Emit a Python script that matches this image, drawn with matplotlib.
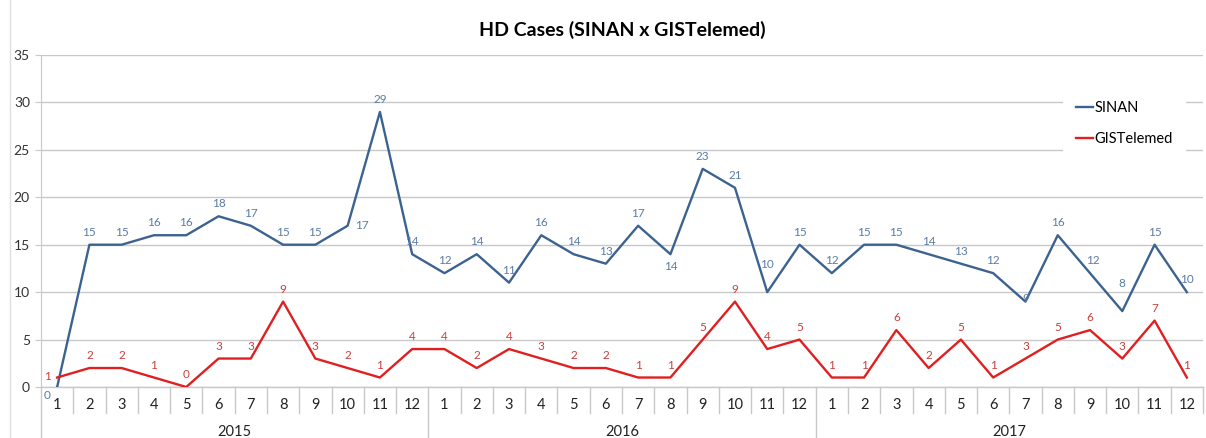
import matplotlib
matplotlib.use('Agg')
import matplotlib.pyplot as plt
import matplotlib.transforms as mtransforms
import numpy as np

plt.rcParams['font.family'] = ['Lato', 'DejaVu Sans']

years = ['2015', '2016', '2017']
months = [str(m) for m in range(1, 13)]

sinan = [0, 15, 15, 16, 16, 18, 17, 15, 15, 17, 29, 14,
         12, 14, 11, 16, 14, 13, 17, 14, 23, 21, 10, 15,
         12, 15, 15, 14, 13, 12, 9, 16, 12, 8, 15, 10]
gistelemed = [1, 2, 2, 1, 0, 3, 3, 9, 3, 2, 1, 4,
              4, 2, 4, 3, 2, 2, 1, 1, 5, 9, 4, 5,
              1, 1, 6, 2, 5, 1, 3, 5, 6, 3, 7, 1]

blue = '#3c6290'
blue_lbl = '#5a7ba6'
red = '#e02020'
red_lbl = '#c8403c'
grid_col = '#c8c8c8'

fig = plt.figure(figsize=(12.06, 4.38), dpi=100)
ax = fig.add_axes([41 / 1206, 51 / 438, 1162 / 1206, 332 / 438])

x = np.arange(len(sinan))
ax.plot(x, sinan, color=blue, linewidth=1.7, label='SINAN', zorder=3)
ax.plot(x, gistelemed, color=red, linewidth=1.7, label='GISTelemed', zorder=3)

# data labels (Excel style, mostly above the point), offsets in points
sinan_off = {0: (-7, -6), 9: (10, 0), 19: (0, -9), 22: (0, 20),
             30: (0, 2), 32: (2, 9), 33: (0, 20)}
gis_off = {0: (-7, 1)}
for i, v in enumerate(sinan):
    ax.annotate(str(v), (i, v), xytext=sinan_off.get(i, (0, 9)), textcoords='offset points',
                ha='center', va='center', fontsize=8.5, color=blue_lbl, zorder=4)
for i, v in enumerate(gistelemed):
    ax.annotate(str(v), (i, v), xytext=gis_off.get(i, (0, 9)), textcoords='offset points',
                ha='center', va='center', fontsize=8.5, color=red_lbl, zorder=4)

ax.set_xlim(-0.5, len(sinan) - 0.5)
ax.set_ylim(0, 35)
ax.set_yticks(np.arange(0, 36, 5))
ax.yaxis.grid(True, color=grid_col, linewidth=1)
ax.set_axisbelow(True)
for s in ['top', 'right', 'bottom']:
    ax.spines[s].set_visible(False)
ax.spines['left'].set_color(grid_col)
ax.spines['left'].set_bounds(0, 35)
ax.tick_params(axis='y', length=4, color=grid_col, labelsize=10, labelcolor='#333333', pad=4)

# two level category axis
ax.set_xticks(x)
ax.set_xticklabels(months * len(years), fontsize=10.5, color='#222222')
ax.tick_params(axis='x', length=0, pad=8)
trans = mtransforms.blended_transform_factory(ax.transData, ax.transAxes)
ax.plot([-0.5, len(sinan) - 0.5], [0, 0], transform=trans, color=grid_col, lw=1, clip_on=False)
for k in range(len(sinan) + 1):
    b = k - 0.5
    low = -0.155 if k % 12 == 0 and k < len(sinan) else -0.078
    ax.plot([b, b], [0, low], transform=trans, color=grid_col, lw=1, clip_on=False)
for j, yr in enumerate(years):
    ax.text(j * 12 + 5.5, -0.135, yr, transform=trans, ha='center', va='center',
            fontsize=10.5, color='#222222')

ax.set_title('HD Cases (SINAN x GISTelemed)', fontsize=14, fontweight='bold', pad=14)

leg = ax.legend(loc='upper left', bbox_to_anchor=(0.873, 0.922), frameon=True,
                framealpha=1, edgecolor='none', fontsize=10.5, handlelength=1.2,
                handletextpad=0.1, labelspacing=1.15, borderpad=0.9)
leg.get_frame().set_boxstyle('square', pad=0)

# outer chart border
fig.add_artist(plt.Line2D([10 / 1206, 10 / 1206], [0, 1], color='#e0e0e0', lw=1))

fig.savefig('out.png', dpi=100)
